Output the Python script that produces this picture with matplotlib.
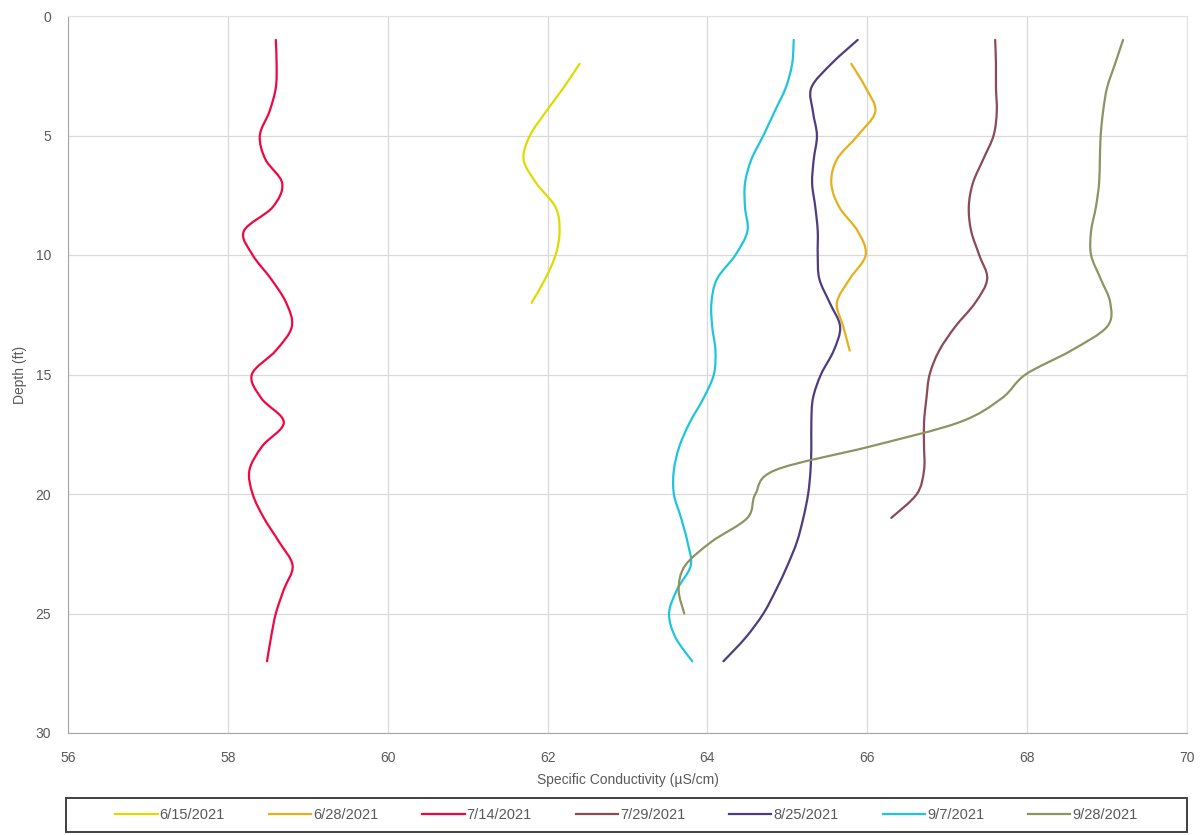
import numpy as np
import matplotlib
matplotlib.use('Agg')
import matplotlib.pyplot as plt
from matplotlib.path import Path
from matplotlib.patches import PathPatch, Rectangle
from matplotlib.lines import Line2D

# Specific conductivity profiles (uS/cm) against depth (ft)
depth_0615 = [2, 3, 4, 5, 6, 7, 8, 9, 10, 11, 12]
cond_0615 = [62.40, 62.20, 61.98, 61.78, 61.70, 61.86, 62.10, 62.15, 62.10, 61.97, 61.80]

depth_0628 = [2, 3, 4, 5, 6, 7, 8, 9, 10, 11, 12, 13, 14]
cond_0628 = [65.80, 65.98, 66.10, 65.88, 65.62, 65.55, 65.65, 65.88, 65.98, 65.78, 65.62, 65.70, 65.78]

depth_0714 = list(range(1, 28))
cond_0714 = [58.60, 58.61, 58.60, 58.52, 58.40, 58.47, 58.68, 58.56, 58.20, 58.31,
             58.54, 58.73, 58.80, 58.60, 58.30, 58.42, 58.70, 58.43, 58.27, 58.31,
             58.45, 58.64, 58.81, 58.70, 58.60, 58.54, 58.49]

depth_0729 = list(range(1, 22))
cond_0729 = [67.60, 67.61, 67.61, 67.62, 67.58, 67.45, 67.32, 67.27, 67.30, 67.40,
             67.50, 67.35, 67.10, 66.90, 66.78, 66.74, 66.71, 66.71, 66.71, 66.62, 66.30]

depth_0825 = list(range(1, 28))
cond_0825 = [65.88, 65.55, 65.30, 65.32, 65.37, 65.33, 65.31, 65.35, 65.38, 65.38,
             65.40, 65.53, 65.66, 65.58, 65.42, 65.32, 65.30, 65.30, 65.29, 65.26,
             65.20, 65.12, 65.00, 64.86, 64.70, 64.48, 64.20]

depth_0907 = list(range(1, 28))
cond_0907 = [65.08, 65.06, 64.98, 64.84, 64.70, 64.55, 64.47, 64.47, 64.50, 64.35,
             64.12, 64.05, 64.06, 64.10, 64.08, 63.95, 63.78, 63.65, 63.58, 63.58,
             63.67, 63.75, 63.79, 63.62, 63.52, 63.60, 63.81]

depth_0928 = list(range(1, 26))
cond_0928 = [69.20, 69.10, 69.00, 68.95, 68.92, 68.91, 68.90, 68.86, 68.80, 68.80,
             68.92, 69.04, 69.00, 68.55, 67.98, 67.68, 67.15, 66.05, 64.85, 64.60,
             64.50, 64.05, 63.72, 63.64, 63.71]

labels = ['6/15/2021', '6/28/2021', '7/14/2021', '7/29/2021', '8/25/2021', '9/7/2021', '9/28/2021']
colors = ['#dcdc00', '#e5b01c', '#f0073f', '#8b4a57', '#4e3d7e', '#1ec5dc', '#8d9462']


def smooth_path(x, y):
    # Excel style smoothed line: cubic bezier segments through every point
    pts = np.column_stack([x, y]).astype(float)
    n = len(pts)
    verts = [pts[0]]
    codes = [Path.MOVETO]
    for i in range(n - 1):
        p0 = pts[max(i - 1, 0)]
        p1 = pts[i]
        p2 = pts[i + 1]
        p3 = pts[min(i + 2, n - 1)]
        verts += [p1 + (p2 - p0) / 6, p2 - (p3 - p1) / 6, p2]
        codes += [Path.CURVE4] * 3
    return Path(verts, codes)


plt.rcParams['font.family'] = ['Liberation Sans', 'DejaVu Sans']
grey = '#595959'

fig = plt.figure(figsize=(12.02, 8.35), dpi=100)
ax = fig.add_axes([68 / 1202, 1 - 733 / 835, (1187 - 68) / 1202, (733 - 16) / 835])

series = [
    (depth_0615, cond_0615), (depth_0628, cond_0628), (depth_0714, cond_0714),
    (depth_0729, cond_0729), (depth_0825, cond_0825), (depth_0907, cond_0907),
    (depth_0928, cond_0928),
]

handles = []
for (d, c), col, lab in zip(series, colors, labels):
    ax.add_patch(PathPatch(smooth_path(c, d), fill=False, edgecolor=col, lw=1.6,
                           capstyle='round', joinstyle='round'))
    handles.append(Line2D([], [], color=col, lw=1.6, label=lab))

ax.set_xlim(56, 70)
ax.set_ylim(30, 0)
ax.set_xticks(np.arange(56, 71, 2))
ax.set_yticks(np.arange(0, 31, 5))
ax.grid(True, color='#d9d9d9', lw=0.9)
ax.set_axisbelow(True)
ax.tick_params(length=0, labelsize=10, labelcolor=grey)
ax.tick_params(axis='x', pad=13)
ax.tick_params(axis='y', pad=12)

for side in ['left', 'bottom']:
    ax.spines[side].set_color('#a6a6a6')
for side in ['top', 'right']:
    ax.spines[side].set_color('#e3e3e3')

ax.set_xlabel('Specific Conductivity (µS/cm)', fontsize=10, color=grey, labelpad=6)
ax.set_ylabel('Depth (ft)', fontsize=10, color=grey, labelpad=6)

# legend box drawn separately so entries can sit centred like in Excel
fig.patches.append(Rectangle((66 / 1202, 3 / 835), (1187 - 66) / 1202, 34 / 835,
                             transform=fig.transFigure, fill=False,
                             edgecolor='#404040', lw=1.4))
leg = fig.legend(handles=handles, loc='center', ncol=7,
                 bbox_to_anchor=((66 + 1187) / 2 / 1202, 20 / 835),
                 frameon=False, fontsize=10.5, handlelength=2.9,
                 handletextpad=0.15, columnspacing=3.0, borderaxespad=0)
for t in leg.get_texts():
    t.set_color(grey)

fig.savefig('out.png', dpi=100)
